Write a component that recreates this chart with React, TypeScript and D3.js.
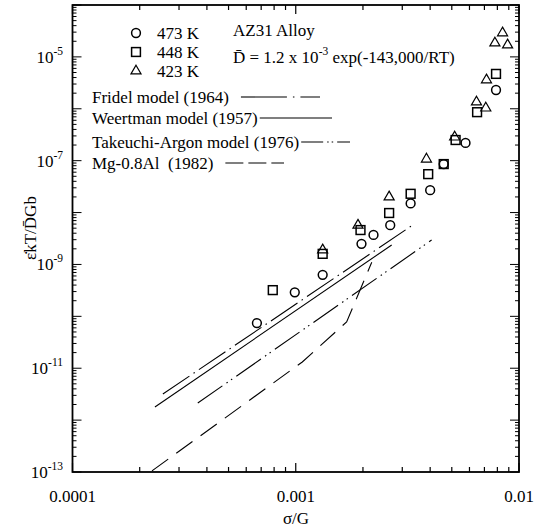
import React, { useEffect, useRef } from 'react';
import * as d3 from 'd3';

// 473 K (open circles)
const x473 = [6.7e-4, 9.9e-4, 1.32e-3, 1.97e-3, 2.23e-3, 2.65e-3, 3.27e-3, 4.0e-3, 4.6e-3, 5.76e-3, 7.89e-3];
const y473 = [7.4e-11, 2.9e-10, 6.3e-10, 2.5e-9, 3.7e-9, 5.7e-9, 1.5e-8, 2.7e-8, 8.6e-8, 2.2e-7, 2.3e-6];
// 448 K (open squares)
const x448 = [7.89e-4, 1.32e-3, 1.95e-3, 2.62e-3, 3.27e-3, 3.92e-3, 4.6e-3, 5.2e-3, 6.49e-3, 7.89e-3];
const y448 = [3.2e-10, 1.6e-9, 4.6e-9, 9.8e-9, 2.3e-8, 5.5e-8, 8.6e-8, 2.5e-7, 8.6e-7, 4.7e-6];
// 423 K (open triangles)
const x423 = [1.32e-3, 1.9e-3, 2.62e-3, 3.85e-3, 5.15e-3, 6.45e-3, 7.1e-3, 7.15e-3, 7.8e-3, 8.44e-3, 8.89e-3];
const y423 = [1.9e-9, 5.7e-9, 2.0e-8, 1.07e-7, 2.85e-7, 1.35e-6, 1.03e-6, 3.6e-6, 1.85e-5, 2.9e-5, 1.7e-5];

// model lines (end points)
const fridelX = [2.54e-4, 3.34e-3];
const fridelY = [3.18e-12, 5.74e-9];
const weertmanX = [2.34e-4, 2.69e-3];
const weertmanY = [1.79e-12, 2.37e-9];
const takeuchiX = [3.64e-4, 4.06e-3];
const takeuchiY = [2.13e-12, 2.95e-9];
const mgX = [2.27e-4, 1.07e-3, 1.69e-3, 2.19e-3];
const mgY = [1.05e-13, 1.32e-11, 7.8e-11, 1.1e-9];

const xMajor = [1e-4, 1e-3, 1e-2];
const xLabels = ['0.0001', '0.001', '0.01'];
const yLabelExp = [-13, -11, -9, -7, -5];

const FONT = "'Liberation Serif', 'DejaVu Serif', serif";
const FS = 17;

const App = () => {
  const ref = useRef<SVGSVGElement>(null);

  useEffect(() => {
    const svg = d3.select(ref.current);
    svg.selectAll('*').remove();

    const left = 72.5, right = 519, top = 5, bottom = 472;
    const x = d3.scaleLog().domain([1e-4, 1e-2]).range([left, right]);
    const y = d3.scaleLog().domain([1e-13, 1e-4]).range([bottom, top]);

    //MINOR AND MAJOR TICK VALUES
    const xMinor: number[] = [];
    for (let k = -4; k < -2; k++) for (let m = 2; m <= 9; m++) xMinor.push(m * Math.pow(10, k));
    const yMinor: number[] = [];
    for (let k = -13; k < -4; k++) for (let m = 2; m <= 9; m++) yMinor.push(m * Math.pow(10, k));
    const yMajor = d3.range(-13, -3).map((e) => Math.pow(10, e));

    const g = svg.append('g').attr('stroke', '#000').attr('fill', 'none');

    //TICKS, POINTING INWARD ON ALL FOUR SIDES
    const tick = (vals: number[], len: number) => {
      vals.forEach((v) => {
        g.append('line').attr('x1', x(v)).attr('x2', x(v)).attr('y1', bottom).attr('y2', bottom - len).attr('stroke-width', 1.2);
        g.append('line').attr('x1', x(v)).attr('x2', x(v)).attr('y1', top).attr('y2', top + len).attr('stroke-width', 1.2);
      });
    };
    tick(xMinor, 5);
    tick(xMajor, 9);
    const ytick = (vals: number[], len: number) => {
      vals.forEach((v) => {
        g.append('line').attr('y1', y(v)).attr('y2', y(v)).attr('x1', left).attr('x2', left + len).attr('stroke-width', 1);
        g.append('line').attr('y1', y(v)).attr('y2', y(v)).attr('x1', right).attr('x2', right - len).attr('stroke-width', 1);
      });
    };
    ytick(yMinor, 4);
    ytick(yMajor, 9);

    //FRAME
    g.append('rect').attr('x', left).attr('y', top).attr('width', right - left).attr('height', bottom - top).attr('stroke-width', 1.8);

    //X TICK LABELS
    xMajor.forEach((v, i) => {
      svg.append('text').attr('x', x(v)).attr('y', 502).attr('text-anchor', 'middle')
        .attr('font-family', FONT).attr('font-size', FS).text(xLabels[i]);
    });
    //Y TICK LABELS
    yLabelExp.forEach((e) => {
      const t = svg.append('text').attr('x', 63).attr('y', y(Math.pow(10, e)) + 6).attr('text-anchor', 'end')
        .attr('font-family', FONT).attr('font-size', FS);
      t.append('tspan').text('10');
      t.append('tspan').attr('dy', -8).attr('font-size', 11.5).text(String(e));
    });

    //AXIS TITLES
    svg.append('text').attr('x', 296).attr('y', 524).attr('text-anchor', 'middle')
      .attr('font-family', FONT).attr('font-size', FS).text('σ/G');
    svg.append('text').attr('transform', 'translate(36,228) rotate(-90)').attr('text-anchor', 'middle')
      .attr('font-family', FONT).attr('font-size', FS).text('ε̇kT/D̄Gb');

    //MODEL LINES
    const line = d3.line<[number, number]>().x((d) => x(d[0])).y((d) => y(d[1]));
    const drawLine = (xs: number[], ys: number[], dash: string | null) => {
      const p = g.append('path').datum(xs.map((v, i) => [v, ys[i]] as [number, number]))
        .attr('d', line).attr('stroke-width', 1.1);
      if (dash) p.attr('stroke-dasharray', dash);
    };
    drawLine(fridelX, fridelY, '32,5,1.5,5');
    drawLine(weertmanX, weertmanY, null);
    drawLine(takeuchiX, takeuchiY, '30,5,1.5,4,1.5,5');
    drawLine(mgX, mgY, '20,10');

    //DATA MARKERS
    const tri = d3.symbol().type(d3.symbolTriangle).size(44);
    const mark = (cx: number, cy: number, kind: string) => {
      if (kind === 'c') g.append('circle').attr('cx', cx).attr('cy', cy).attr('r', 4.4).attr('stroke-width', 1.5);
      if (kind === 's') g.append('rect').attr('x', cx - 4.4).attr('y', cy - 4.4).attr('width', 8.8).attr('height', 8.8).attr('stroke-width', 1.5);
      if (kind === 't') g.append('path').attr('d', tri).attr('transform', `translate(${cx},${cy})`).attr('stroke-width', 1.2);
    };
    x473.forEach((v, i) => mark(x(v), y(y473[i]), 'c'));
    x448.forEach((v, i) => mark(x(v), y(y448[i]), 's'));
    x423.forEach((v, i) => mark(x(v), y(y423[i]), 't'));

    //LEGEND
    const lg = svg.append('g').attr('font-family', FONT).attr('font-size', FS);
    const legX = 136;
    [['c', '473 K', 33], ['s', '448 K', 52], ['t', '423 K', 71]].forEach(([k, label, ly]) => {
      const cy = ly as number;
      mark(legX, cy, k as string);
      lg.append('text').attr('x', 157).attr('y', cy + 6).text(label as string);
    });
    lg.append('text').attr('x', 233).attr('y', 36).text('AZ31 Alloy');
    const dt = lg.append('text').attr('x', 233).attr('y', 63);
    dt.append('tspan').text('D̄ = 1.2 x 10');
    dt.append('tspan').attr('dy', -8).attr('font-size', 11.5).text('-3');
    dt.append('tspan').attr('dy', 8).text(' exp(-143,000/RT)');

    //MODEL LEGEND: LABEL, ROW Y, GAP AFTER TEXT, SAMPLE END, DASH
    const models: [string, number, number, number, string | null][] = [
      ['Fridel model (1964)', 97, 12, 320, '46,6,1.5,6'],
      ['Weertman model (1957)', 118, 2, 332, null],
      ['Takeuchi-Argon model (1976)', 142, 2, 350, '22,4,1.5,3,1.5,4'],
      ['Mg-0.8Al  (1982)', 163, 12, 284, '18,5'],
    ];
    models.forEach(([label, cy, gap, x2, dash]) => {
      const t = lg.append('text').attr('x', 92).attr('y', cy + 6).text(label).style('white-space', 'pre');
      const tw = (t.node() as SVGTextElement).getComputedTextLength();
      const l = g.append('line').attr('x1', 92 + tw + gap).attr('x2', x2).attr('y1', cy).attr('y2', cy).attr('stroke-width', 1.1);
      if (dash) l.attr('stroke-dasharray', dash);
    });
  }, []);

  return (
    <svg ref={ref} width={534} height={527}
      style={{ position: 'absolute', left: 0, top: 0, background: '#fff' }} />
  );
};

export default App;
